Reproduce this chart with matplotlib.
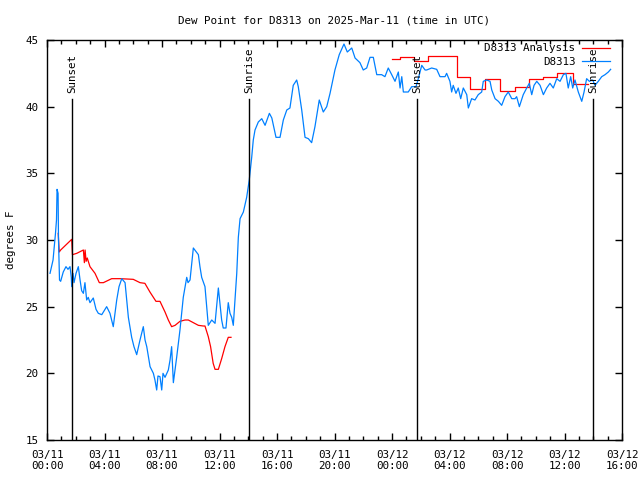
import matplotlib
matplotlib.use("Agg")
import matplotlib.pyplot as plt
import matplotlib.dates as mdates
from datetime import datetime, timedelta

# ---- data (hours after 2025-03-11 00:00 UTC, degrees F) ----
obs_hours = [0.21, 0.42, 0.59, 0.66, 0.70, 0.77, 0.80, 0.87, 0.95, 1.13, 1.32, 1.46, 1.60, 1.69, 1.72,
             1.81, 1.88, 2.02, 2.18, 2.30, 2.41, 2.53, 2.64, 2.76, 2.87, 2.99, 3.22, 3.41, 3.57, 3.81,
             4.15, 4.38, 4.61, 4.85, 5.01, 5.20, 5.43, 5.66, 5.89, 6.05, 6.24, 6.47, 6.70, 6.82, 6.94,
             7.17, 7.40, 7.51, 7.63, 7.72, 7.86, 7.98, 8.07, 8.21, 8.44, 8.56, 8.67, 8.79, 9.02, 9.25,
             9.48, 9.72, 9.81, 9.95, 10.18, 10.53, 10.64, 10.76, 10.99, 11.22, 11.46, 11.69, 11.92,
             12.15, 12.26, 12.45, 12.61, 12.73, 12.85, 12.96, 13.20, 13.31, 13.43, 13.66, 13.89, 14.07,
             14.24, 14.35, 14.47, 14.70, 14.94, 15.17, 15.47, 15.64, 15.93, 16.21, 16.44, 16.68, 16.90,
             17.13, 17.37, 17.48, 17.72, 17.95, 18.18, 18.41, 18.64, 18.94, 19.22, 19.46, 19.69, 20.03,
             20.33, 20.66, 20.89, 21.20, 21.43, 21.77, 22.00, 22.24, 22.47, 22.70, 22.94, 23.28, 23.51,
             23.74, 23.98, 24.21, 24.44, 24.56, 24.68, 24.79, 25.13, 25.37, 25.67, 25.83, 26.07, 26.30,
             26.41, 26.76, 27.11, 27.34, 27.69, 27.80, 28.03, 28.15, 28.26, 28.45, 28.61, 28.78, 28.96,
             29.20, 29.31, 29.54, 29.77, 30.00, 30.24, 30.35, 30.59, 30.82, 30.94, 31.17, 31.40, 31.63,
             31.86, 32.09, 32.33, 32.56, 32.67, 32.86, 33.13, 33.37, 33.55, 33.72, 33.88, 34.07, 34.30,
             34.53, 34.76, 34.99, 35.22, 35.46, 35.69, 35.92, 36.10, 36.26, 36.43, 36.57, 36.73, 36.96,
             37.20, 37.36, 37.54, 37.73, 37.96, 38.12, 38.35, 38.59, 38.82, 39.05, 39.21]
obs_values = [27.5, 28.5, 30.5, 31.5, 33.8, 33.5, 30.0, 27.0, 26.9, 27.6, 28.0, 27.8, 28.0, 27.2, 26.5,
              27.5, 26.8, 27.5, 28.0, 27.0, 26.2, 26.0, 26.8, 25.5, 25.7, 25.3, 25.65, 24.8, 24.5, 24.4,
              25.0, 24.5, 23.5, 25.5, 26.5, 27.1, 26.8, 24.2, 22.7, 22.0, 21.4, 22.5, 23.5, 22.5, 22.0,
              20.5, 20.0, 19.5, 18.75, 19.8, 19.75, 18.75, 20.0, 19.7, 20.25, 21.0, 22.0, 19.3, 21.2, 23.25,
              25.7, 27.2, 26.8, 27.0, 29.4, 28.9, 28.0, 27.2, 26.5, 23.6, 24.0, 23.75, 26.4,
              24.0, 23.4, 23.4, 25.3, 24.5, 24.2, 23.6, 27.5, 30.2, 31.6, 32.1, 33.2, 34.5,
              36.2, 37.5, 38.25, 38.85, 39.1, 38.6, 39.5, 39.15, 37.7, 37.7, 39.0, 39.75, 39.9,
              41.6, 42.0, 41.5, 39.75, 37.7, 37.6, 37.3, 38.5, 40.5, 39.6, 40.0, 41.0, 42.75,
              43.9, 44.7, 44.1, 44.4, 43.65, 43.3, 42.75, 42.9, 43.7, 43.7, 42.4, 42.4, 42.25,
              42.9, 42.4, 41.9, 42.6, 41.4, 42.25, 41.1, 41.1, 41.5, 41.5, 42.1, 43.1, 42.75,
              42.75, 42.9, 42.8, 42.25, 42.25, 42.5, 41.9, 41.1, 41.6, 41.0, 41.4, 40.6, 41.4,
              40.9, 39.9, 40.6, 40.5, 40.9, 41.1, 41.9, 42.0, 41.9, 41.25, 40.6, 40.4, 40.1,
              40.75, 41.1, 40.6, 40.6, 40.75, 40.0, 40.9, 41.4, 41.75, 40.9, 41.6, 41.9, 41.6,
              40.9, 41.4, 41.75, 41.4, 42.1, 41.9, 42.4, 42.5, 41.4, 42.25, 41.4, 42.0, 41.1,
              40.4, 41.1, 42.1, 41.9, 42.0, 41.6, 41.9, 42.25, 42.4, 42.6, 42.8]

ana1_hours = [0.78, 0.85, 0.95, 1.72, 1.77, 2.07, 2.53, 2.60, 2.65, 2.72, 2.80, 2.99, 3.34, 3.64, 3.92,
              4.50, 5.08, 6.00, 6.47, 6.81, 7.16, 7.58, 7.86, 8.21, 8.44, 8.67, 8.91, 9.25, 9.60, 9.83,
              10.18, 10.53, 10.87, 10.99, 11.22, 11.38, 11.56, 11.69, 11.92, 12.15, 12.38, 12.61, 12.80]
ana1_values = [30.5, 29.1, 29.25, 30.05, 28.9, 29.0, 29.25, 28.3, 29.25, 28.4, 28.65, 28.0, 27.5, 26.8, 26.8,
               27.1, 27.1, 27.05, 26.8, 26.75, 26.1, 25.4, 25.4, 24.6, 24.0, 23.5, 23.6, 23.9, 24.0, 24.0,
               23.8, 23.6, 23.55, 23.55, 22.75, 22.0, 20.75, 20.3, 20.3, 21.1, 22.0, 22.7, 22.7]

ana2_hours = [24.0, 24.55, 25.5, 26.5, 28.5, 29.4, 30.5, 31.5, 32.55, 33.5, 34.5, 35.5, 36.6, 37.6]
ana2_values = [43.6, 43.75, 43.45, 43.8, 42.2, 41.3, 42.05, 41.2, 41.45, 42.1, 42.2, 42.5, 41.7, 41.7]

sun_hours = [1.76, 14.05, 25.77, 38.0]
sun_labels = ["Sunset", "Sunrise", "Sunset", "Sunrise"]

title = "Dew Point for D8313 on 2025-Mar-11 (time in UTC)"
ylabel = "degrees F"
series_labels = ["D8313 Analysis", "D8313"]

base = datetime(2025, 3, 11)
to_dt = lambda hs: [base + timedelta(hours=h) for h in hs]

FONT = "DejaVu Sans Mono"
FS = 7.8
plt.rcParams["font.family"] = FONT
plt.rcParams["font.size"] = FS

fig = plt.figure(figsize=(6.4, 4.8), dpi=100)
ax = fig.add_axes([47 / 640, 40 / 480, 575 / 640, 400 / 480])

ax.plot(to_dt(ana1_hours), ana1_values, color="#ff0000", lw=0.9, label=series_labels[0])
ax.plot(to_dt(ana2_hours), ana2_values, color="#ff0000", lw=0.9, drawstyle="steps-post")
ax.plot(to_dt(obs_hours), obs_values, color="#0080ff", lw=0.9, label=series_labels[1])

for h, lab in zip(sun_hours, sun_labels):
    t = base + timedelta(hours=h)
    ax.plot([t, t], [15, 40.6], color="black", lw=1.0)
    ax.text(t, 41.05, lab, rotation=90, ha="center", va="bottom", fontsize=FS)

ax.set_xlim(base, base + timedelta(hours=40))
ax.set_ylim(15, 45)
ax.set_yticks([15, 20, 25, 30, 35, 40, 45])
ax.xaxis.set_major_locator(mdates.HourLocator(byhour=[0, 4, 8, 12, 16, 20]))
ax.xaxis.set_minor_locator(mdates.HourLocator())
ax.xaxis.set_major_formatter(mdates.DateFormatter("%m/%d\n%H:%M"))

ax.tick_params(axis="both", which="major", direction="in", length=5, width=1,
               top=True, right=True, labelsize=FS)
ax.tick_params(axis="x", which="minor", direction="in", length=3, width=1, top=True, bottom=True)
ax.tick_params(axis="x", which="major", pad=7)
ax.tick_params(axis="y", which="major", pad=6)
for sp in ax.spines.values():
    sp.set_linewidth(1.0)

ax.set_title(title, fontsize=FS, pad=12)
ax.set_ylabel(ylabel, fontsize=FS, labelpad=7)

leg = ax.legend(loc="upper right", frameon=False, markerfirst=False, fontsize=FS,
                handlelength=2.6, handletextpad=0.6, labelspacing=0.35,
                borderpad=0.0, borderaxespad=0.0,
                bbox_to_anchor=(1 - 12 / 575, 1 - 3.5 / 400))

fig.savefig("out.png", dpi=100)
